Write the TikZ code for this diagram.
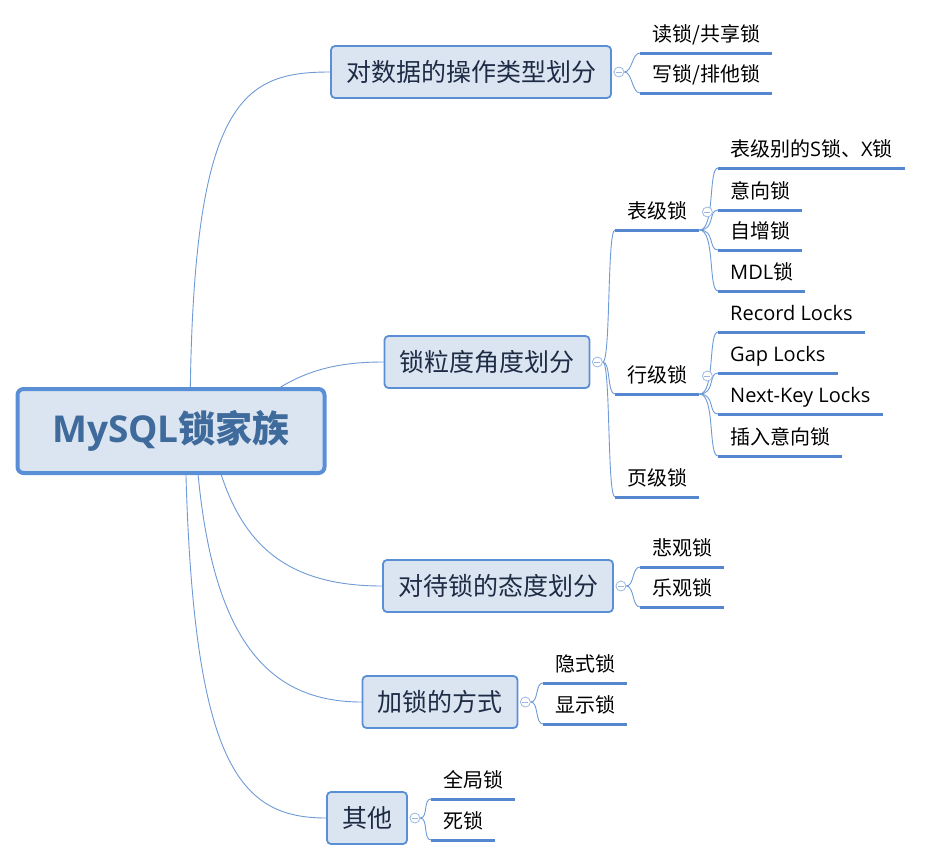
\documentclass[tikz,border=0pt]{standalone}
\usepackage{fontspec}
\setmainfont{Noto Sans CJK SC}
\newfontfamily\latinfont{Open Sans}
\usetikzlibrary{backgrounds}
\definecolor{boxfill}{HTML}{DBE5F1}
\definecolor{boxline}{HTML}{5B8FD5}
\definecolor{rootText}{HTML}{3F6A9C}
\definecolor{topicText}{HTML}{1E2B45}
\definecolor{branchLine}{HTML}{6E9AD6}
\definecolor{underLine}{HTML}{5487CF}
\newcommand{\lt}[1]{{\latinfont #1}}

\begin{document}
\begin{tikzpicture}[
x=1pt, y=-1pt,
root/.style={draw=boxline, line width=4, fill=boxfill, rounded corners=6, minimum width=307, minimum height=84, text=rootText, font=\fontsize{37}{42}\selectfont\bfseries},
topic/.style={draw=boxline, line width=1.8, fill=boxfill, rounded corners=4, minimum height=52, inner xsep=15, text=topicText, font=\fontsize{25}{29}\selectfont},
leaf/.style={anchor=south west, inner xsep=12, inner ysep=5, text height=16, text depth=6, font=\fontsize{20}{23}\selectfont,
  append after command={\pgfextra{\let\leafnode=\tikzlastnode} (\leafnode.south west) edge[uline] (\leafnode.south east)}},
uline/.style={draw=underLine, line width=3},
fold/.style={circle, draw=branchLine!70, line width=0.8, minimum size=10, inner sep=0, fill=white,
  path picture={\draw[branchLine!70, line width=0.8] ([xshift=-3]path picture bounding box.center) -- ([xshift=3]path picture bounding box.center);}},
branch/.style={draw=branchLine, line width=0.9}
]
\useasboundingbox (0,0) rectangle (929,862);

% centre and main topics
\node[root] (root) at (171,431) {\lt{MySQL}锁家族};
\node[topic] (opA) at (471,72) {对数据的操作类型划分};
\node[topic] (opB) at (487,362) {锁粒度角度划分};
\node[topic] (opC) at (498,586) {对待锁的态度划分};
\node[topic] (opD) at (440,702) {加锁的方式};
\node[topic] (opE) at (367,818) {其他};

\node[fold] (fA) at ([xshift=7]opA.east) {};
\node[fold] (fB) at ([xshift=7]opB.east) {};
\node[fold] (fC) at ([xshift=7]opC.east) {};
\node[fold] (fD) at ([xshift=7]opD.east) {};
\node[fold] (fE) at ([xshift=7]opE.east) {};

% leaves
\node[leaf] (readL) at (640,53) {读锁/共享锁};
\node[leaf] (writeL) at (640,93) {写锁/排他锁};

\node[leaf] (tableL) at (615,230) {表级锁};
\node[leaf] (rowL) at (615,394) {行级锁};
\node[leaf] (pageL) at (615,497) {页级锁};
\node[fold] (fT) at ([xshift=8,yshift=18]tableL.south east) {};
\node[fold] (fR) at ([xshift=8,yshift=18]rowL.south east) {};

\node[leaf] (tSX) at (718,168) {表级别的\lt{S}锁、\lt{X}锁};
\node[leaf] (tIntent) at (718,210) {意向锁};
\node[leaf] (tAuto) at (718,250) {自增锁};
\node[leaf] (tMDL) at (718,291) {\lt{MDL}锁};

\node[leaf] (rRec) at (718,332) {\lt{Record Locks}};
\node[leaf] (rGap) at (718,373) {\lt{Gap Locks}};
\node[leaf] (rNext) at (718,414) {\lt{Next-Key Locks}};
\node[leaf] (rIns) at (718,456) {插入意向锁};

\node[leaf] (pessL) at (640,567) {悲观锁};
\node[leaf] (optL) at (640,607) {乐观锁};

\node[leaf] (implL) at (543,683) {隐式锁};
\node[leaf] (explL) at (543,724) {显示锁};

\node[leaf] (globL) at (431,799) {全局锁};
\node[leaf] (deadL) at (431,840) {死锁};

% connectors
\begin{scope}[on background layer]
\draw[branch] ([xshift=19]root.center) .. controls +(0,-330) and +(-90,0) .. (opA.west);
\draw[branch] ([xshift=60]root.center) .. controls +(50,-60) and +(-50,0) .. (opB.west);
\draw[branch] ([xshift=39]root.center) .. controls +(20,100) and +(-110,0) .. (opC.west);
\draw[branch] ([xshift=24]root.center) .. controls +(10,200) and +(-100,0) .. (opD.west);
\draw[branch] ([xshift=14]root.center) .. controls +(5,330) and +(-90,0) .. (opE.west);

\foreach \f/\c in {fA/readL, fA/writeL, fB/tableL, fB/rowL, fB/pageL, fC/pessL, fC/optL, fD/implL, fD/explL, fE/globL, fE/deadL}
  \draw[branch] (\f.east) .. controls +(8,0) and +(-8,0) .. (\c.south west);

\foreach \c in {tSX, tIntent, tAuto, tMDL}
  \draw[branch] (tableL.south east) .. controls +(16,0) and +(-10,0) .. (\c.south west);
\foreach \c in {rRec, rGap, rNext, rIns}
  \draw[branch] (rowL.south east) .. controls +(16,0) and +(-10,0) .. (\c.south west);
\end{scope}
\end{tikzpicture}
\end{document}
